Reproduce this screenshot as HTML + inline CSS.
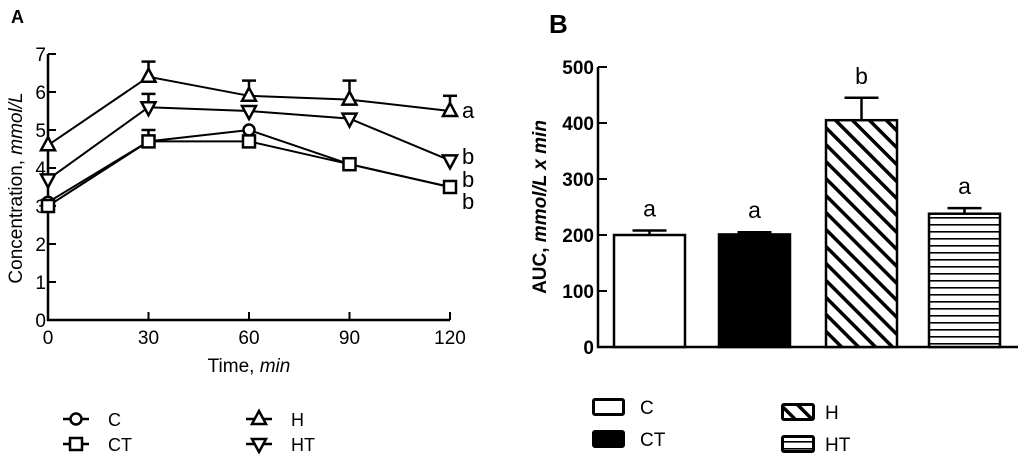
<!DOCTYPE html>
<html><head><meta charset="utf-8"><style>
body{margin:0;background:#fff;}
svg{display:block;font-family:"Liberation Sans",Arial,sans-serif;}
</style></head><body>
<svg id="s" width="1024" height="467" viewBox="0 0 1024 467">
<text x="11" y="23" font-size="18" font-weight="bold">A</text>
<text x="549" y="33" font-size="26" font-weight="bold">B</text>
<g id="ga"></g>
<g id="gb"></g>
<defs>
<pattern id="diag" patternUnits="userSpaceOnUse" width="12" height="12" patternTransform="rotate(-45)">
<rect width="12" height="12" fill="#fff"/><rect x="0" y="0" width="3.5" height="12" fill="#000"/></pattern>
<pattern id="horiz" patternUnits="userSpaceOnUse" width="10" height="7">
<rect width="10" height="7" fill="#fff"/><rect x="0" y="0" width="10" height="1.6" fill="#000"/></pattern>
</defs>
</svg>
<script>
const NS="http://www.w3.org/2000/svg";
// Panel A data
const times=[0,30,60,90,120];
const seriesNames=["C","CT","H","HT"];
const valC=[3.1,4.7,5.0,4.1,3.5];
const valCT=[3.0,4.7,4.7,4.1,3.5];
const valH=[4.6,6.4,5.9,5.8,5.5];
const valHT=[3.7,5.6,5.5,5.3,4.2];
const errC=[0.1,0.1,0.1,0.1,0.1];
const errCT=[0.1,0.3,0.1,0.1,0.1];
const errH=[0.1,0.4,0.4,0.5,0.4];
const errHT=[0.1,0.35,0.1,0.1,0.1];
const yTicksA=[0,1,2,3,4,5,6,7];
const xTicksA=[0,30,60,90,120];
const sigA=["b","b","a","b"];
// Panel B data
const groups=["C","CT","H","HT"];
const auc=[200,201,405,238];
const aucErr=[8,4,40,10];
const yTicksB=[0,100,200,300,400,500];
const sigB=["a","a","b","a"];

function el(t,a,p){const e=document.createElementNS(NS,t);for(const k in a)e.setAttribute(k,a[k]);p.appendChild(e);return e;}
const ga=document.getElementById('ga'),gb=document.getElementById('gb');
const xA=v=>48+v*(402/120), yA=v=>320-v*38;
let ax=el('path',{d:`M48 ${yA(7)} V${yA(0)} H${xA(120)}`,stroke:'#000','stroke-width':2.5,fill:'none'},ga);

yTicksA.forEach(t=>{
 let l=el('line',{x1:48,x2:56,y1:yA(t),y2:yA(t),stroke:'#000','stroke-width':2},ga);
 
 let tx=el('text',{x:46,y:yA(t)+7,'font-size':19,'text-anchor':'end'},ga);tx.textContent=t;
 
});
xTicksA.forEach(t=>{
 let l=el('line',{x1:xA(t),x2:xA(t),y1:312,y2:320,stroke:'#000','stroke-width':2},ga);
 
 let tx=el('text',{x:xA(t),y:344,'font-size':19,'text-anchor':'middle'},ga);tx.textContent=t;
 
});
let xt=el('text',{x:249,y:372,'font-size':19,'text-anchor':'middle'},ga);
xt.innerHTML='Time, <tspan font-style="italic">min</tspan>';

let yt=el('text',{x:0,y:0,'font-size':19,'text-anchor':'middle',transform:'translate(22,188) rotate(-90)'},ga);
yt.innerHTML='Concentration, <tspan font-style="italic">mmol/L</tspan>';


function marker(kind,x,y,p){
 const st={stroke:'#000','stroke-width':2.5,fill:'#fff'};
 let m;
 if(kind==='C')m=el('circle',Object.assign({cx:x,cy:y,r:5.5},st),p);
 else if(kind==='CT')m=el('rect',Object.assign({x:x-6,y:y-6,width:12,height:12},st),p);
 else if(kind==='H')m=el('path',Object.assign({d:`M${x} ${y-8}L${x+7} ${y+5}H${x-7}Z`},st),p);
 else m=el('path',Object.assign({d:`M${x} ${y+8}L${x+7} ${y-5}H${x-7}Z`},st),p);
 return m;
}
const vals=[valC,valCT,valH,valHT],errs=[errC,errCT,errH,errHT];
vals.forEach((v,si)=>{
 const g=el('g',{},ga);
 
 
 el('polyline',{points:v.map((d,i)=>xA(times[i])+','+yA(d)).join(' '),fill:'none',stroke:'#000','stroke-width':2},g);
 v.forEach((d,i)=>{
  const x=xA(times[i]),y0=yA(d),y1=yA(d+errs[si][i]);
  if(errs[si][i]>0.15){
   el('line',{x1:x,x2:x,y1:y0,y2:y1,stroke:'#000','stroke-width':2.5},g);
   el('line',{x1:x-7,x2:x+7,y1:y1,y2:y1,stroke:'#000','stroke-width':2.5},g);
  }
 });
 v.forEach((d,i)=>{
  const m=marker(seriesNames[si],xA(times[i]),yA(d),g);
  
  
 });
});
const sigOrder=[[2,111],[3,157],[0,180],[1,202]];
sigOrder.forEach(([si,y])=>{
 let t=el('text',{x:462,y:y+7,'font-size':22},ga);t.textContent=sigA[si];
 
});
const legA=[[76,419,'C'],[76,444,'CT'],[259,419,'H'],[259,444,'HT']];
legA.forEach(([x,y,n])=>{
 const g=el('g',{},ga);
 
 
 el('line',{x1:x-13,x2:x+13,y1:y,y2:y,stroke:'#000','stroke-width':2.5},g);
 marker(n,x,y,g);
 const t=el('text',{x:x+32,y:y+7,'font-size':18},g);t.textContent=n;
});

// Panel B
const yB=v=>347-v*(280/500);
const barX=[614,719,826,929],barW=71;
const fills=['#fff','#000','url(#diag)','url(#horiz)'];
let axb=el('path',{d:`M598 ${yB(500)} V347 H1018`,stroke:'#000','stroke-width':2.5,fill:'none'},gb);

yTicksB.forEach(t=>{
 let l=el('line',{x1:598,x2:607,y1:yB(t),y2:yB(t),stroke:'#000','stroke-width':2},gb);
 
 let tx=el('text',{x:594,y:yB(t)+7,'font-size':19,'font-weight':'bold','text-anchor':'end'},gb);tx.textContent=t;
 
});
let ybt=el('text',{x:0,y:0,'font-size':19,'font-weight':'bold','text-anchor':'middle',transform:'translate(546,207) rotate(-90)'},gb);
ybt.innerHTML='AUC, <tspan font-style="italic">mmol/L x min</tspan>';

auc.forEach((v,i)=>{
 const x=barX[i],top=yB(v),et=yB(v+aucErr[i]);
 let e1=el('line',{x1:x+barW/2,x2:x+barW/2,y1:top,y2:et,stroke:'#000','stroke-width':2.5},gb);
 
 let e2=el('line',{x1:x+barW/2-17,x2:x+barW/2+17,y1:et,y2:et,stroke:'#000','stroke-width':2.5},gb);
 
 let r=el('rect',{x:x,y:top,width:barW,height:347-top,fill:fills[i],stroke:'#000','stroke-width':2.5},gb);
 
 let t=el('text',{x:x+barW/2,y:et-14,'font-size':23,'text-anchor':'middle'},gb);t.textContent=sigB[i];
 
});
const legB=[[592,398,'C',0],[592,430,'CT',1],[781,403,'H',2],[781,435,'HT',3]];
legB.forEach(([x,y,n,i])=>{
 const g=el('g',{},gb);
 
 
 el('rect',{x:x+1.5,y:y+1.5,width:(i<2?30:31),height:15,fill:fills[i],stroke:'#000','stroke-width':3,rx:1.5},g);
 const t=el('text',{x:x+(i<2?48:44),y:y+16,'font-size':19},g);t.textContent=n;
});
</script>
</body></html>
